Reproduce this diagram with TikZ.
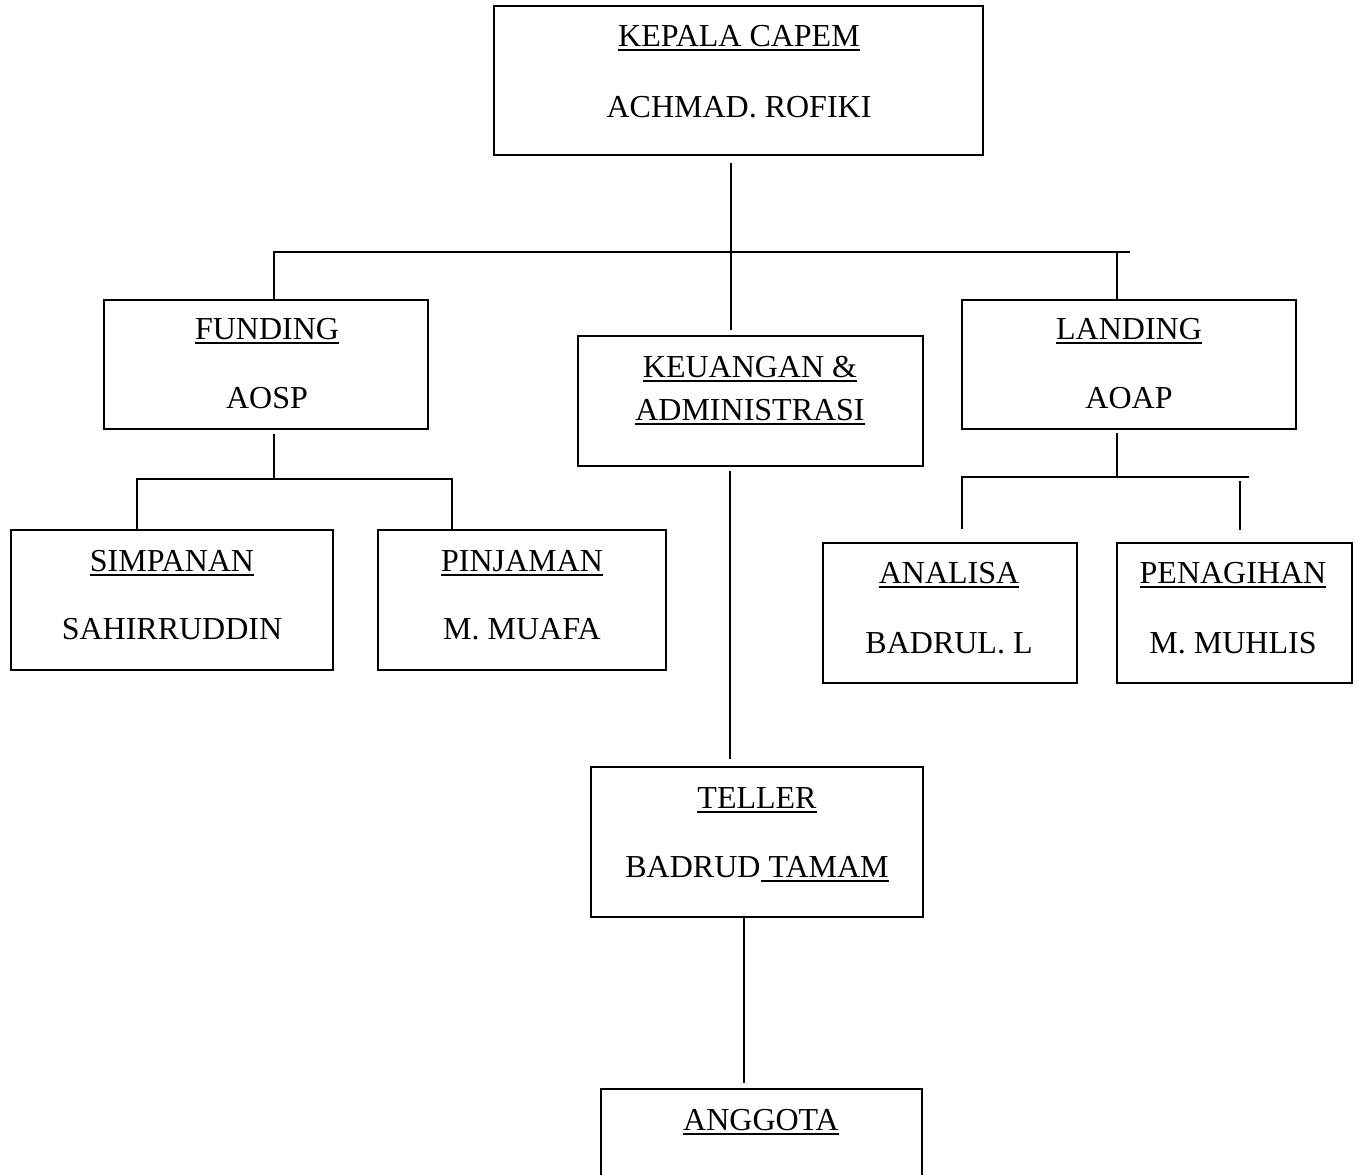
\documentclass[tikz,border=0pt]{standalone}
\usepackage{fontspec}
\setmainfont{Liberation Serif}
\usetikzlibrary{fit}
\newcommand{\uln}[1]{\leavevmode\setbox0\hbox{#1}\rlap{\rule[-2.6pt]{\wd0}{0.9pt}}\box0}
\tikzset{
  box/.style={draw, line width=1.1pt, inner sep=0pt},
  txt/.style={anchor=base, inner sep=0pt, font=\fontsize{16}{19}\selectfont},
  link/.style={line width=1pt},
}

\begin{document}
\begin{tikzpicture}[x=0.5pt, y=-0.5pt]
  \clip (0,0) rectangle (1358,1174);

  % boxes
  \node[box, fit={(494,6) (983,155)}] (kepala) {};
  \node[box, fit={(104,300) (428,429)}] (funding) {};
  \node[box, fit={(578,336) (923,466)}] (keuangan) {};
  \node[box, fit={(962,300) (1296,429)}] (landing) {};
  \node[box, fit={(11,530) (333,670)}] (simpanan) {};
  \node[box, fit={(378,530) (666,670)}] (pinjaman) {};
  \node[box, fit={(823,543) (1077,683)}] (analisa) {};
  \node[box, fit={(1117,543) (1352,683)}] (penagihan) {};
  \node[box, fit={(591,767) (923,917)}] (teller) {};
  \node[box, fit={(601,1089) (922,1239)}] (anggota) {};

  % texts
  \node[txt] (kepala-jab)    at (739,46)   {\uln{KEPALA CAPEM}};
  \node[txt] (kepala-nama)   at (739,117)  {ACHMAD. ROFIKI};
  \node[txt] (funding-jab)   at (267,339)  {\uln{FUNDING}};
  \node[txt] (funding-nama)  at (267,408)  {AOSP};
  \node[txt] (keuangan-jab)  at (750,377)  {\uln{KEUANGAN \&}};
  \node[txt] (keuangan-jab2) at (750,420)  {\uln{ADMINISTRASI}};
  \node[txt] (landing-jab)   at (1129,339) {\uln{LANDING}};
  \node[txt] (landing-nama)  at (1129,408) {AOAP};
  \node[txt] (simpanan-jab)  at (172,571)  {\uln{SIMPANAN}};
  \node[txt] (simpanan-nama) at (172,639)  {SAHIRRUDDIN};
  \node[txt] (pinjaman-jab)  at (522,571)  {\uln{PINJAMAN}};
  \node[txt] (pinjaman-nama) at (522,639)  {M. MUAFA};
  \node[txt] (analisa-jab)   at (949,583)  {\uln{ANALISA}};
  \node[txt] (analisa-nama)  at (949,653)  {BADRUL. L};
  \node[txt] (penagihan-jab) at (1233,583) {\uln{PENAGIHAN}};
  \node[txt] (penagihan-nama) at (1233,653) {M. MUHLIS};
  \node[txt] (teller-jab)    at (757,808)  {\uln{TELLER}};
  \node[txt] (teller-nama)   at (757,877)  {BADRUD\uln{\ TAMAM}};
  \node[txt] (anggota-jab)   at (761,1130) {\uln{ANGGOTA}};

  % joints
  \coordinate (hub)   at (731,252);
  \coordinate (busL)  at (274,252);
  \coordinate (busR)  at (1130,252);
  \coordinate (busLd) at (1117,252);
  \coordinate (fj)    at (274,479);
  \coordinate (fL)    at (137,479);
  \coordinate (fR)    at (452,479);
  \coordinate (lj)    at (1117,477);
  \coordinate (lL)    at (962,477);
  \coordinate (lR)    at (1249,477);
  \coordinate (lRd)   at (1240,481);
  \coordinate (spineA) at (729.5,470);
  \coordinate (spineB) at (743.5,1000);

  % connectors
  \draw[link, shorten <=3.5pt, shorten >=2.5pt] (hub |- kepala.south) -- (hub |- keuangan.north);
  \draw[link] (busL |- funding.north) -- (busL) -- (busR);
  \draw[link] (busLd) -- (busLd |- landing.north);
  \draw[link, shorten <=2pt] (fj |- funding.south) -- (fj);
  \draw[link] (fL |- simpanan.north) -- (fL) -- (fR) -- (fR |- pinjaman.north);
  \draw[link, shorten <=1.5pt] (lj |- landing.south) -- (lj);
  \draw[link, shorten >=6.5pt] (lR) -- (lL) -- (lL |- analisa.north);
  \draw[link, shorten >=6pt] (lRd) -- (lRd |- penagihan.north);
  \draw[link, shorten <=2pt, shorten >=3.5pt] (spineA |- keuangan.south) -- (spineA |- teller.north);
  \draw[link, shorten >=2.5pt] (spineB |- teller.south) -- (spineB |- anggota.north);
\end{tikzpicture}
\end{document}
